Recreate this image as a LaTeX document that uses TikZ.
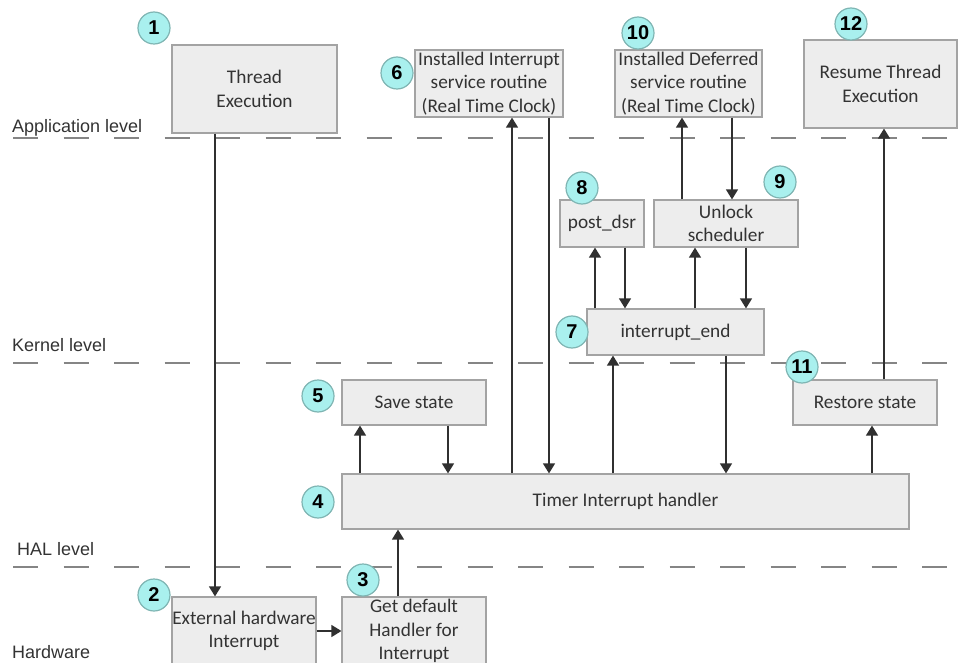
\documentclass[tikz,border=0pt]{standalone}
\usepackage{fontspec}
\setmainfont{Carlito}
\newfontfamily\lblfont{Liberation Sans}
\usetikzlibrary{arrows.meta}
\definecolor{boxfill}{HTML}{EDEDED}
\definecolor{boxline}{HTML}{A3A3A3}
\definecolor{numfill}{HTML}{A9F0EE}
\definecolor{numline}{HTML}{7FB5B3}
\definecolor{dashcol}{HTML}{858585}
\definecolor{txt}{HTML}{333333}
\definecolor{arrcol}{HTML}{303030}
\tikzset{
  box/.style={draw=boxline, fill=boxfill, line width=1.2pt, inner sep=0pt, align=center,
    text=txt, font=\fontsize{19.3}{23.5}\selectfont},
  num/.style={circle, draw=numline, fill=numfill, line width=1.2pt, minimum size=32pt, inner sep=0pt,
    font=\lblfont\bfseries\fontsize{20}{20}\selectfont},
  lvl/.style={anchor=base west, inner sep=0pt, text=txt, font=\lblfont\fontsize{18}{18}\selectfont},
  sep/.style={draw=dashcol, line width=2pt, dash pattern=on 25pt off 25.5pt},
  arr/.style={draw=arrcol, line width=1.3pt, -{Triangle[width=12pt,length=10pt]}},
}
\begin{document}
\begin{tikzpicture}[x=1pt,y=-1pt]
\useasboundingbox (0,0) rectangle (958,663);
% level separators
\draw[sep] (13,138) -- (958,138);
\draw[sep] (13,363) -- (958,363);
\draw[sep] (13,567) -- (958,567);
% level labels
\node[lvl] (lapp) at (12,133) {Application level};
\node[lvl] (lker) at (12,351) {Kernel level};
\node[lvl] (lhal) at (17,555) {HAL level};
\node[lvl] (lhw) at (12,658) {Hardware};
% boxes
\node[box, minimum width=165pt, minimum height=88pt] (n1) at (254.5,89) {Thread\\Execution};
\node[box, minimum width=144pt, minimum height=68pt] (n2) at (244,631) {External hardware\\Interrupt};
\node[box, minimum width=144pt, minimum height=68pt] (n3) at (414,631) {Get default\\Handler for\\Interrupt};
\node[box, minimum width=567pt, minimum height=55pt] (n4) at (625.5,501.5) {Timer Interrupt handler};
\node[box, minimum width=144pt, minimum height=45pt] (n5) at (414,402.5) {Save state};
\node[box, minimum width=148pt, minimum height=67pt] (n6) at (489,83.5) {Installed Interrupt\\service routine\\(Real Time Clock)};
\node[box, minimum width=177pt, minimum height=46pt] (n7) at (675.5,332) {interrupt\_end};
\node[box, minimum width=84pt, minimum height=47pt] (n8) at (602,223.5) {post\_dsr};
\node[box, minimum width=144pt, minimum height=47pt] (n9) at (726,223.5) {Unlock\\scheduler};
\node[box, minimum width=147pt, minimum height=67pt] (n10) at (688.5,83.5) {Installed Deferred\\service routine\\(Real Time Clock)};
\node[box, minimum width=144pt, minimum height=45pt] (n11) at (865,402.5) {Restore state};
\node[box, minimum width=153pt, minimum height=88pt] (n12) at (880.5,84) {Resume Thread\\Execution};
% connectors
\draw[arr] (n1.south -| 215,0) -- (n2.north -| 215,0);
\draw[arr] (n2.east) -- (n3.west);
\draw[arr] (n3.north -| 398,0) -- (n4.south -| 398,0);
\draw[arr] (n4.north -| 360,0) -- (n5.south -| 360,0);
\draw[arr] (n5.south -| 448,0) -- (n4.north -| 448,0);
\draw[arr] (n4.north -| 512,0) -- (n6.south -| 512,0);
\draw[arr] (n6.south -| 549,0) -- (n4.north -| 549,0);
\draw[arr] (n4.north -| 613,0) -- (n7.south -| 613,0);
\draw[arr] (n7.south -| 726,0) -- (n4.north -| 726,0);
\draw[arr] (n7.north -| 595,0) -- (n8.south -| 595,0);
\draw[arr] (n8.south -| 625,0) -- (n7.north -| 625,0);
\draw[arr] (n7.north -| 695,0) -- (n9.south -| 695,0);
\draw[arr] (n9.south -| 746,0) -- (n7.north -| 746,0);
\draw[arr] (n9.north -| 682,0) -- (n10.south -| 682,0);
\draw[arr] (n10.south -| 732,0) -- (n9.north -| 732,0);
\draw[arr] (n4.north -| 872,0) -- (n11.south -| 872,0);
\draw[arr] (n11.north -| 884,0) -- (n12.south -| 884,0);
% step numbers
\node[num] (c1) at (154,28) {1};
\node[num] (c2) at (154,595) {2};
\node[num] (c3) at (363,580) {3};
\node[num] (c4) at (318,502) {4};
\node[num] (c5) at (318,396) {5};
\node[num] (c6) at (397,73) {6};
\node[num] (c7) at (572,332) {7};
\node[num] (c8) at (582,188) {8};
\node[num] (c9) at (780,182) {9};
\node[num] (c10) at (638,33) {10};
\node[num] (c11) at (802,367) {11};
\node[num] (c12) at (851,24) {12};
\end{tikzpicture}
\end{document}
